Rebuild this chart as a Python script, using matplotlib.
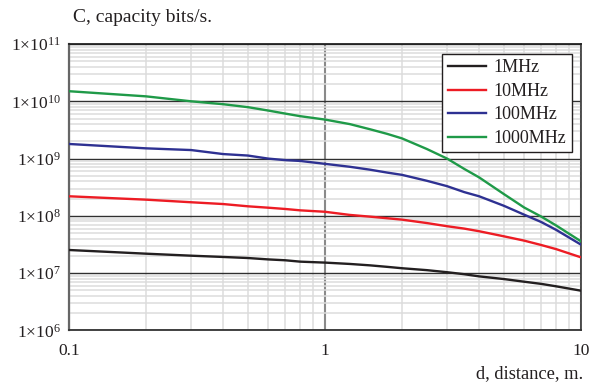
import matplotlib
matplotlib.use("Agg")
import matplotlib.pyplot as plt
from matplotlib.ticker import LogLocator, FixedLocator, NullFormatter

plt.rcParams['font.family'] = ['Liberation Serif', 'DejaVu Serif']
plt.rcParams['mathtext.fontset'] = 'custom'
plt.rcParams['mathtext.rm'] = 'Liberation Serif'
plt.rcParams['mathtext.default'] = 'regular'

distance = [0.1, 0.2, 0.3, 0.4, 0.5, 0.6, 0.7, 0.8, 1, 1.25, 1.5, 1.75, 2, 2.5, 3,
            3.5, 4, 5, 6, 7, 8, 10]
cap_1mhz = [2.54e7, 2.19e7, 2.02e7, 1.92e7, 1.84e7, 1.74e7, 1.68e7, 1.59e7, 1.53e7,
            1.45e7, 1.37e7, 1.29e7, 1.22e7, 1.13e7, 1.04e7, 9.6e6, 8.8e6, 7.9e6,
            7.1e6, 6.5e6, 5.9e6, 4.95e6]
cap_10mhz = [2.2e8, 1.92e8, 1.73e8, 1.61e8, 1.47e8, 1.39e8, 1.32e8, 1.25e8, 1.18e8,
             1.04e8, 9.7e7, 9.1e7, 8.6e7, 7.5e7, 6.6e7, 6.0e7, 5.4e7, 4.4e7, 3.7e7,
             3.1e7, 2.63e7, 1.89e7]
cap_100mhz = [1.80e9, 1.51e9, 1.41e9, 1.2e9, 1.13e9, 1.0e9, 9.4e8, 9.1e8, 8.1e8,
              7.2e8, 6.4e8, 5.7e8, 5.2e8, 4.1e8, 3.3e8, 2.6e8, 2.2e8, 1.5e8, 1.05e8,
              7.8e7, 5.7e7, 3.15e7]
cap_1000mhz = [1.50e10, 1.22e10, 1.0e10, 8.9e9, 7.9e9, 6.9e9, 6.1e9, 5.5e9, 4.8e9,
               4.0e9, 3.25e9, 2.7e9, 2.25e9, 1.47e9, 1.0e9, 6.6e8, 4.7e8, 2.4e8,
               1.4e8, 9.7e7, 6.8e7, 3.6e7]
series_labels = ['1MHz', '10MHz', '100MHz', '1000MHz']
series_colors = ['#231f20', '#ed1c24', '#2e3192', '#1f9a48']
y_ticks = [1e6, 1e7, 1e8, 1e9, 1e10, 1e11]
y_ticklabels = [r'1×10$^{6}$', r'1×10$^{7}$', r'1×10$^{8}$', r'1×10$^{9}$',
                r'1×10$^{10}$', r'1×10$^{11}$']
x_ticks = [0.1, 1, 10]
x_ticklabels = ['0.1', '1', '10']

fig = plt.figure(figsize=(6.05, 3.85), dpi=100)
ax = fig.add_axes([0.114, 0.1416, 0.8463, 0.7441])
ax.set_xscale('log')
ax.set_yscale('log')
ax.set_xlim(0.1, 10)
ax.set_ylim(1e6, 1e11)

# grids
ax.xaxis.set_minor_locator(LogLocator(base=10, subs=range(2, 10)))
ax.yaxis.set_minor_locator(LogLocator(base=10, subs=range(2, 10)))
ax.xaxis.set_minor_formatter(NullFormatter())
ax.yaxis.set_minor_formatter(NullFormatter())
ax.grid(which='minor', axis='both', color='#dcdcdc', lw=1.1, zorder=0)
ax.grid(which='major', axis='y', color='#303030', lw=1.0, zorder=1)
ax.grid(which='major', axis='x', color='#8a8a8a', lw=1.5, zorder=1)
ax.set_axisbelow(True)

for vals, lab, col in zip([cap_1mhz, cap_10mhz, cap_100mhz, cap_1000mhz],
                          series_labels, series_colors):
    ax.plot(distance, vals, color=col, lw=1.7, label=lab, zorder=3)

ax.yaxis.set_major_locator(FixedLocator(y_ticks))
ax.set_yticklabels(y_ticklabels)
ax.xaxis.set_major_locator(FixedLocator(x_ticks))
ax.set_xticklabels(x_ticklabels)
ax.tick_params(which='both', length=0, labelsize=12.5, colors='#231f20')
ax.tick_params(axis='y', pad=6)
ax.tick_params(axis='x', pad=9)

ax.spines['left'].set_color('#666666')
ax.spines['left'].set_linewidth(1.6)
ax.spines['bottom'].set_color('#333333')
ax.spines['bottom'].set_linewidth(1.3)
ax.spines['top'].set_color('#222222')
ax.spines['top'].set_linewidth(1.3)
ax.spines['right'].set_color('#444444')
ax.spines['right'].set_linewidth(1.3)

leg = ax.legend(loc='upper right', bbox_to_anchor=(0.9825, 0.965), fontsize=13,
                frameon=True, fancybox=False, handlelength=2.1, handletextpad=0.45,
                borderpad=0.3, labelspacing=0.36, borderaxespad=0)
leg.get_frame().set_edgecolor('#231f20')
leg.get_frame().set_linewidth(1.0)
leg.get_frame().set_alpha(1)
for t in leg.get_texts():
    t.set_color('#231f20')

fig.text(73 / 605, 1 - 18 / 385, 'C, capacity bits/s.', fontsize=14, va='center',
         ha='left', color='#231f20')
fig.text(583 / 605, 1 - 374 / 385, 'd, distance, m.', fontsize=13.3, va='center',
         ha='right', color='#231f20')

fig.savefig('out.png', dpi=100)
